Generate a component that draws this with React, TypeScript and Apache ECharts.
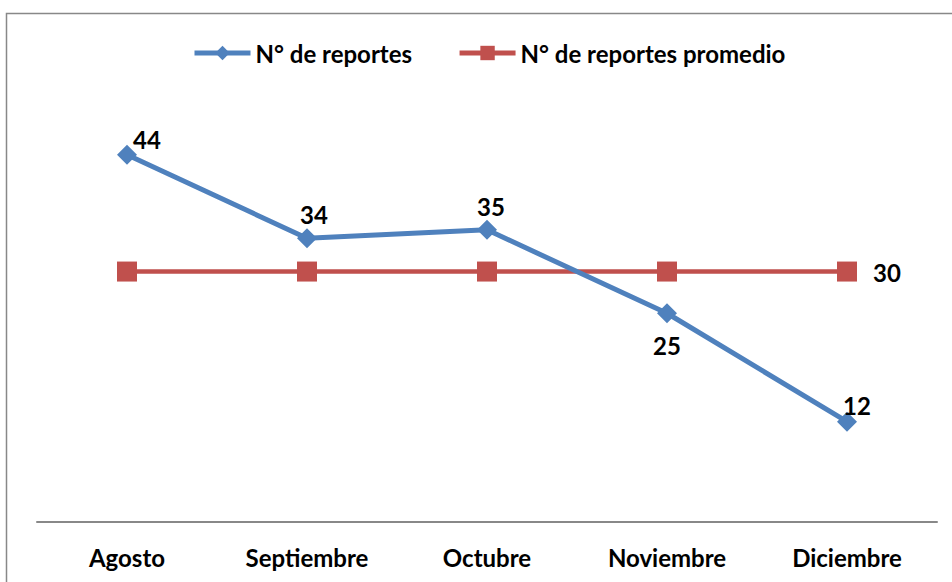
import React, { useEffect, useRef } from "react";
import * as echarts from "echarts";

const categories = ["Agosto", "Septiembre", "Octubre", "Noviembre", "Diciembre"];
const reportes = [44, 34, 35, 25, 12];
const promedio = [30, 30, 30, 30, 30];
const reportesLabelOffsets = [
  [20, -15],
  [7, -24],
  [4, -23],
  [0, 32],
  [10, -16],
];

const FONT = "Lato, 'Open Sans', sans-serif";

export default function App() {
  const ref = useRef<HTMLDivElement>(null);
  useEffect(() => {
    if (!ref.current) return;
    const chart = echarts.init(ref.current, undefined, { renderer: "svg" });
    chart.setOption({
      animation: false,
      backgroundColor: "#ffffff",
      textStyle: { fontFamily: FONT },
      graphic: [
        {
          type: "rect",
          shape: { x: 6.5, y: 13.5, width: 980, height: 600 },
          style: { fill: "none", stroke: "#888888", lineWidth: 1.5 },
          silent: true,
        },
      ],
      legend: {
        top: 36,
        left: 187,
        padding: 5,
        itemWidth: 56,
        itemHeight: 18,
        itemGap: 45,
        textStyle: { fontFamily: FONT, fontSize: 24, fontWeight: "bold", color: "#000" },
        data: [
          { name: "N° de reportes", lineStyle: { width: 5, color: "#4F81BD" } },
          { name: "N° de reportes promedio", lineStyle: { width: 5, color: "#C0504D" } },
        ],
      },
      grid: { left: 37, right: 15, top: 104.75, bottom: 60.25, containLabel: false },
      xAxis: {
        type: "category",
        data: categories,
        boundaryGap: true,
        axisLine: { show: true, lineStyle: { color: "#888888", width: 2 } },
        axisTick: { show: false },
        axisLabel: {
          margin: 24,
          fontFamily: FONT,
          fontSize: 24,
          fontWeight: "bold",
          color: "#000",
        },
      },
      yAxis: {
        type: "value",
        min: 0,
        max: 50,
        show: false,
        splitLine: { show: false },
      },
      series: [
        {
          name: "N° de reportes",
          type: "line",
          data: reportes.map((v, i) => ({
            value: v,
            label: { offset: reportesLabelOffsets[i] },
          })),
          symbol: "diamond",
          symbolSize: 20,
          lineStyle: { color: "#4F81BD", width: 5 },
          itemStyle: { color: "#4F81BD" },
          label: {
            show: true,
            position: "inside",
            fontFamily: FONT,
            fontSize: 24,
            fontWeight: "bold",
            color: "#000",
          },
          z: 3,
        },
        {
          name: "N° de reportes promedio",
          type: "line",
          data: promedio.map((v, i) => ({
            value: v,
            label: { show: i === promedio.length - 1, offset: [40, 1] },
          })),
          symbol: "rect",
          symbolSize: 20,
          lineStyle: { color: "#C0504D", width: 4.5 },
          itemStyle: { color: "#C0504D" },
          label: {
            show: false,
            position: "inside",
            fontFamily: FONT,
            fontSize: 24,
            fontWeight: "bold",
            color: "#000",
          },
          z: 2,
        },
      ],
    });
    return () => chart.dispose();
  }, []);
  return (
    <div
      ref={ref}
      style={{ position: "absolute", left: 0, top: 0, width: 952, height: 582 }}
    />
  );
}
